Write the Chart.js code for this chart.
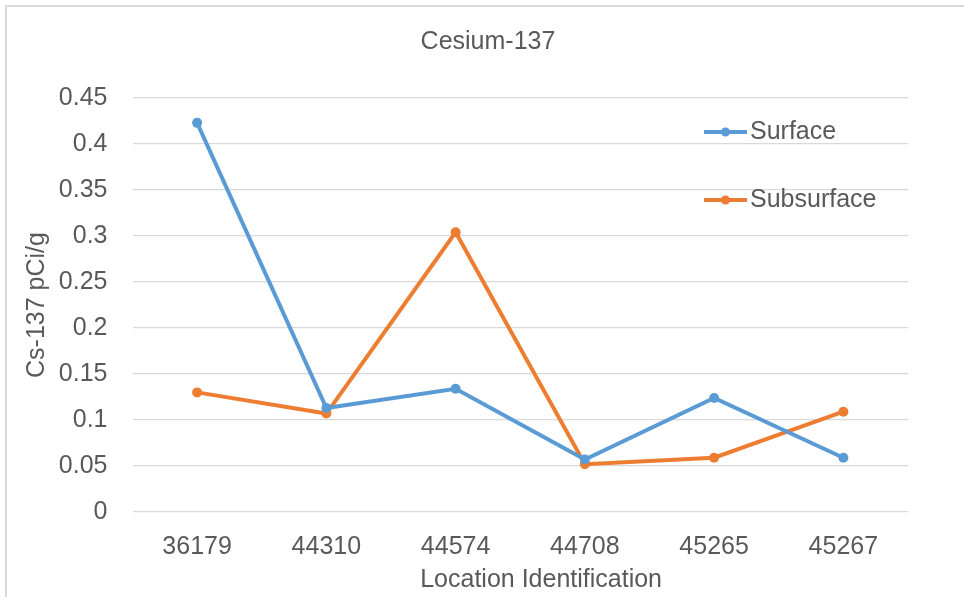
<!DOCTYPE html>
<html>
<head>
<meta charset="utf-8">
<script src="https://cdn.jsdelivr.net/npm/chart.js@4"></script>
<style>
  html, body { margin: 0; padding: 0; background: #fff; overflow: hidden; }
  #frame { position: absolute; left: 5px; top: 5px; width: 1000px; height: 700px;
           border-left: 2px solid #d9d9d9; border-top: 2px solid #d9d9d9; }
  #wrap { position: absolute; left: 0; top: 0; width: 964px; height: 597px; }
</style>
</head>
<body>
<div id="frame"></div>
<div id="wrap"><canvas id="chart-cesium" width="964" height="597"></canvas></div>
<script>
const locations = ["36179", "44310", "44574", "44708", "45265", "45267"];
const surface = [0.423, 0.113, 0.134, 0.057, 0.124, 0.059];
const subsurface = [0.130, 0.107, 0.304, 0.052, 0.059, 0.109];

const textColor = "#595959";
const fontFamily = '"Liberation Sans", Arial, sans-serif';
Chart.defaults.font.family = fontFamily;
Chart.defaults.color = textColor;

// Excel-style legend: short line with a dot, stacked inside the plot
// also centres the chart title over the whole frame, not just left of the padding
const legendLines = {
  id: "legendLines",
  afterLayout(chart) {
    chart.titleBlock.left = 12;
    chart.titleBlock.right = chart.width;
  },
  afterDraw(chart) {
    const ctx = chart.ctx;
    chart.data.datasets.forEach((ds, i) => {
      const y = 132 + i * 68;
      ctx.save();
      ctx.strokeStyle = ds.borderColor;
      ctx.lineWidth = 4;
      ctx.beginPath();
      ctx.moveTo(704, y);
      ctx.lineTo(747, y);
      ctx.stroke();
      ctx.fillStyle = ds.borderColor;
      ctx.beginPath();
      ctx.arc(725.5, y, 4.5, 0, Math.PI * 2);
      ctx.fill();
      ctx.fillStyle = textColor;
      ctx.font = "25px " + fontFamily;
      ctx.textBaseline = "middle";
      ctx.fillText(ds.label, 750, y);
      ctx.restore();
    });
  },
};

const ctxCesium = document.querySelector("#chart-cesium").getContext("2d");

new Chart(ctxCesium, {
  type: "line",
  data: {
    labels: locations,
    datasets: [
      { label: "Surface", data: surface, borderColor: "#5B9BD5", backgroundColor: "#5B9BD5" },
      { label: "Subsurface", data: subsurface, borderColor: "#ED7D31", backgroundColor: "#ED7D31" },
    ],
  },
  options: {
    responsive: false,
    animation: false,
    elements: {
      line: { borderWidth: 4, tension: 0 },
      point: { radius: 5, borderWidth: 0 },
    },
    layout: { padding: { left: 12, right: 56, top: 0, bottom: 0 } },
    scales: {
      x: {
        offset: true,
        grid: { display: false, drawTicks: false },
        border: { display: false },
        ticks: { padding: 20, font: { size: 25 } },
        title: {
          display: true,
          text: "      Location Identification",
          font: { size: 25 },
          padding: { top: 0, bottom: 2 },
        },
        afterFit(scale) { scale.height = 85; },
      },
      y: {
        min: 0,
        max: 0.45,
        ticks: {
          stepSize: 0.05,
          padding: 25,
          font: { size: 25 },
          callback: (v) => String(+v.toFixed(2)),
        },
        grid: { color: "#d9d9d9", lineWidth: 1.3, drawTicks: false },
        border: { display: false },
        title: {
          display: true,
          text: "Cs-137 pCi/g",
          font: { size: 25 },
          padding: { top: 10, bottom: 0 },
        },
        afterFit(scale) { scale.width = 120.5; },
      },
    },
    plugins: {
      legend: { display: false },
      tooltip: { enabled: false },
      title: {
        display: true,
        text: "Cesium-137",
        font: { size: 25, weight: "normal" },
        color: textColor,
        padding: { top: 27, bottom: 41 },
      },
    },
  },
  plugins: [legendLines],
});
</script>
</body>
</html>
